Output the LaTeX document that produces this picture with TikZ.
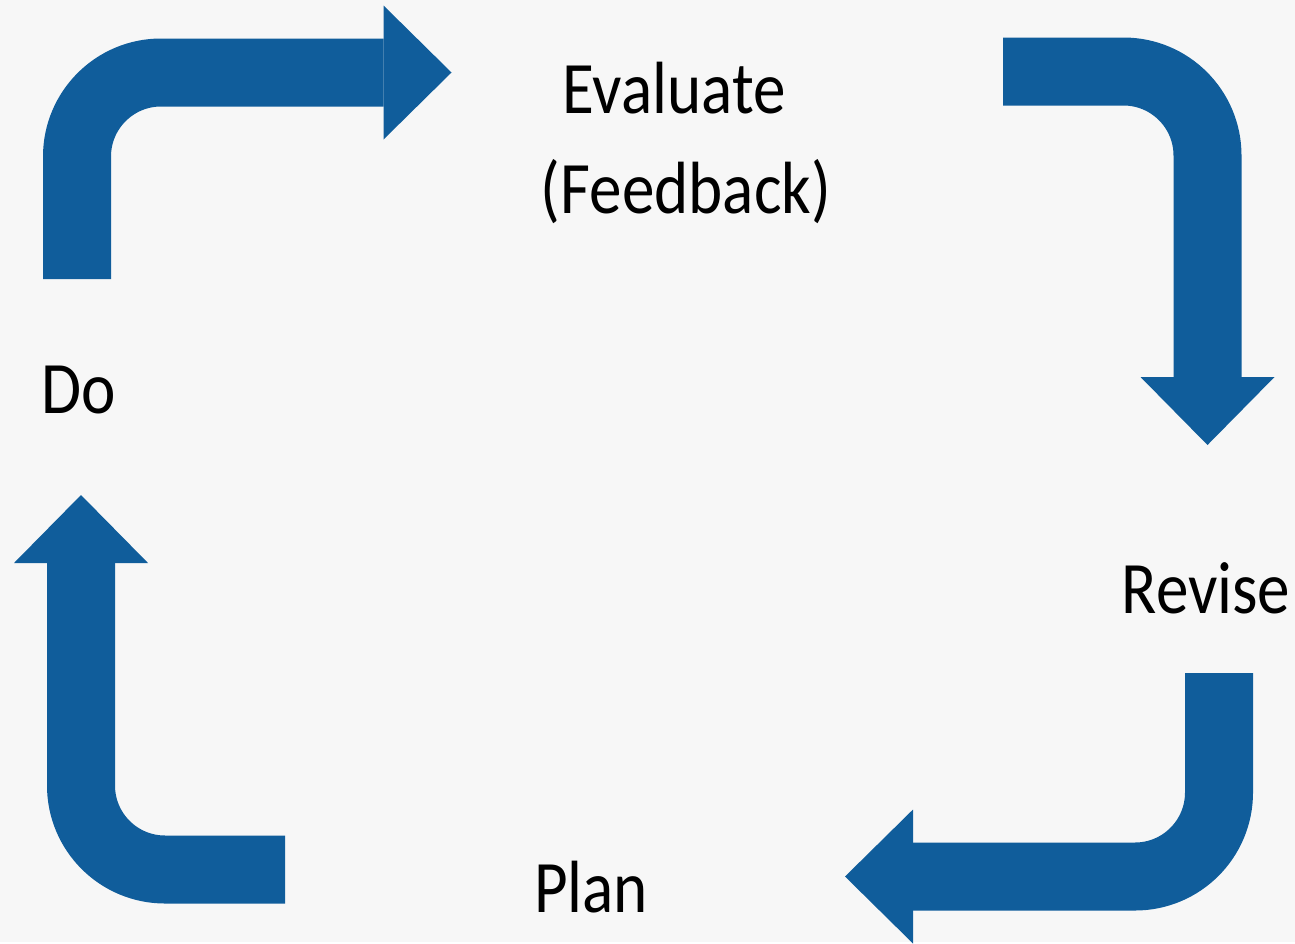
\documentclass[tikz,border=0pt]{standalone}
\usepackage{fontspec}
\setmainfont{Carlito}[FakeStretch=0.88]
\usetikzlibrary{arrows.meta}
\definecolor{cycleblue}{HTML}{105D9B}
\definecolor{paper}{HTML}{F7F7F7}

\begin{document}
\begin{tikzpicture}[x=1pt,y=-1pt,
	stage/.style={inner sep=0pt,anchor=base,font=\fontsize{74}{100}\selectfont},
	loop/.style={cycleblue,line width=68pt,rounded corners=84pt,
		-{Triangle[length=68pt,width=134pt,line width=0pt]}}]
	\fill[paper] (0,0) rectangle (1295,942);
	% stage names
	\node[stage] (evaluate) at (674,113) {Evaluate};
	\node[stage] (feedback) at (686,213) {(Feedback)};
	\node[stage] (revise) at (1206,613) {Revise};
	\node[stage] (plan) at (591,912) {Plan};
	\node[stage] (do) at (79,413) {Do};
	% bent arrows
	\coordinate (DoOut) at (77,279);
	\coordinate (DoBend) at (77,72.5);
	\coordinate (EvIn) at (451.5,72.5);
	\coordinate (EvOut) at (1003,71.5);
	\coordinate (EvBend) at (1207.5,71.5);
	\coordinate (ReIn) at (1207.5,445);
	\coordinate (ReOut) at (1219,673);
	\coordinate (ReBend) at (1219,876.5);
	\coordinate (PlIn) at (845,876.5);
	\coordinate (PlOut) at (285,869.5);
	\coordinate (PlBend) at (81,869.5);
	\coordinate (DoIn) at (81,495);
	\draw[loop] (DoOut)--(DoBend)--(EvIn);
	\draw[loop] (EvOut)--(EvBend)--(ReIn);
	\draw[loop] (ReOut)--(ReBend)--(PlIn);
	\draw[loop] (PlOut)--(PlBend)--(DoIn);
\end{tikzpicture}
\end{document}
